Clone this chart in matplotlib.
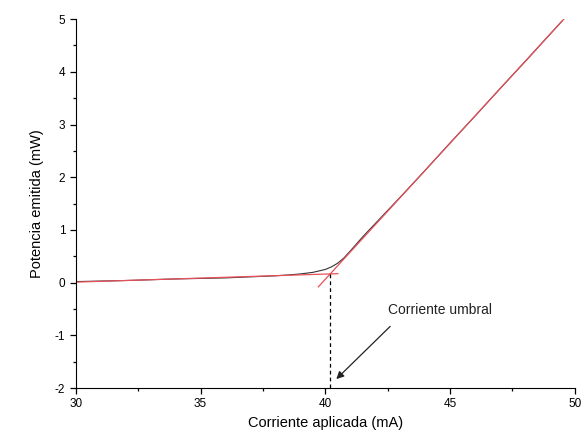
import matplotlib.pyplot as plt
from matplotlib.ticker import MultipleLocator

plt.rcParams['font.family'] = ['Liberation Sans', 'DejaVu Sans']
plt.rcParams['axes.unicode_minus'] = False

# measured curve
corriente = [30, 32, 34, 36, 37, 38, 38.5, 39, 39.5, 40, 40.25, 40.5, 40.75, 41, 41.5, 42, 43, 44, 45, 46, 47, 48, 49, 49.5]
potencia = [0.02, 0.04, 0.07, 0.09, 0.11, 0.13, 0.145, 0.165, 0.195, 0.25, 0.3, 0.37, 0.47, 0.6, 0.87, 1.12, 1.62, 2.13, 2.65, 3.16, 3.68, 4.19, 4.71, 4.97]

# fit lines
ajuste_bajo_x = [30, 40.5]
ajuste_bajo_y = [0.01, 0.17]
ajuste_alto_x = [39.72, 49.56]
ajuste_alto_y = [-0.08, 5.0]

umbral_x = 40.2
umbral_y = 0.17

fig = plt.figure(figsize=(5.83, 4.44), dpi=100)
ax = fig.add_axes([0.130, 0.126, 0.856, 0.831])

ax.plot(corriente, potencia, color='#333333', lw=0.8)
ax.plot(ajuste_bajo_x, ajuste_bajo_y, color='#e8505a', lw=0.9)
ax.plot(ajuste_alto_x, ajuste_alto_y, color='#e8505a', lw=0.9)
ax.plot([umbral_x, umbral_x], [umbral_y, -2], color='black', lw=0.9, ls=(0, (3, 2.5)))

ax.annotate('', xy=(40.44, -1.83), xytext=(42.6, -0.83),
            arrowprops=dict(arrowstyle='-|>', color='#222222', lw=0.9,
                            mutation_scale=11, shrinkA=0, shrinkB=0))
ax.text(42.5, -0.51, 'Corriente umbral', fontsize=10, va='center', ha='left', color='#222222')

ax.set_xlim(30, 50)
ax.set_ylim(-2, 5)
ax.xaxis.set_major_locator(MultipleLocator(5))
ax.xaxis.set_minor_locator(MultipleLocator(2.5))
ax.yaxis.set_major_locator(MultipleLocator(1))
ax.yaxis.set_minor_locator(MultipleLocator(0.5))
ax.spines['top'].set_visible(False)
ax.spines['right'].set_visible(False)
ax.tick_params(which='major', length=4, width=0.9, labelsize=8.5, direction='out')
ax.tick_params(which='minor', length=2.5, width=0.9, direction='out')

ax.set_xlabel('Corriente aplicada (mA)', fontsize=10.5, labelpad=4)
ax.set_ylabel('Potencia emitida (mW)', fontsize=10.5, labelpad=8)

fig.savefig('out.png', dpi=100)
